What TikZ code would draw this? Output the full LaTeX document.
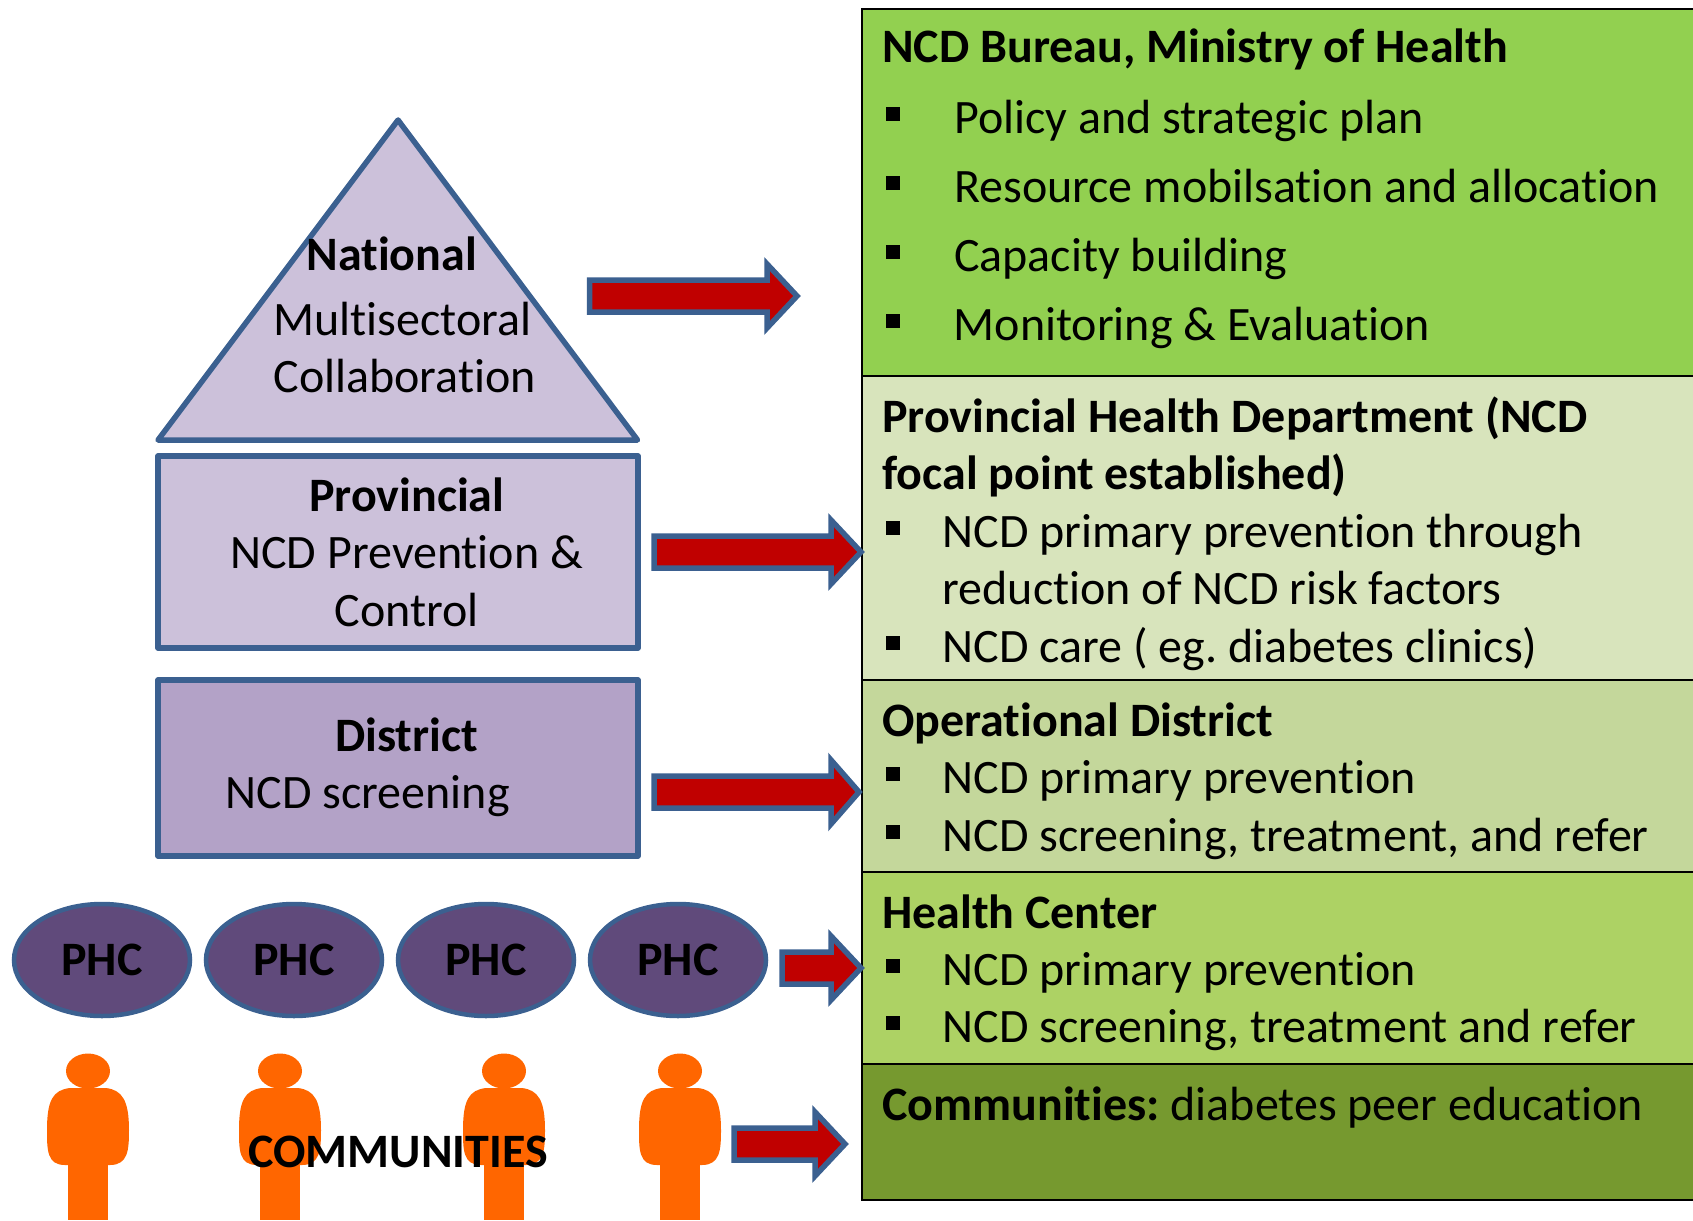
\documentclass[tikz,border=0pt]{standalone}
\usepackage{fontspec}
\usetikzlibrary{shapes.geometric}
\setmainfont[Ligatures=NoCommon]{Carlito}
\AtBeginDocument{\frenchspacing}
\definecolor{edgeblue}{HTML}{3B6090}
\definecolor{arrowred}{HTML}{C00000}
\definecolor{lilac}{HTML}{CCC1DA}
\definecolor{lilacdk}{HTML}{B3A2C7}
\definecolor{phcfill}{HTML}{604A7B}
\definecolor{personc}{HTML}{FF6600}
\definecolor{pgreen}{HTML}{92D050}
\definecolor{plight}{HTML}{D8E4BC}
\definecolor{pmid}{HTML}{C4D79B}
\definecolor{phc}{HTML}{ADD264}
\definecolor{pdark}{HTML}{76992F}
\tikzset{
  panel/.style={draw=black,line width=2pt},
  level/.style={draw=edgeblue,line width=5.5pt,line join=round},
  blockarrow/.style={draw=edgeblue,fill=arrowred,line width=5.5pt,line join=miter},
  phcnode/.style={ellipse,draw=edgeblue,fill=phcfill,line width=4.5pt,minimum width=176pt,minimum height=112pt,inner sep=0pt,font=\fontsize{48}{58}\selectfont\bfseries},
  lefttext/.style={anchor=base,inner sep=0pt,xshift=0.7pt,yshift=-0.8pt,font=\fontsize{48}{58}\selectfont},
  lefthead/.style={lefttext,font=\fontsize{48}{58}\selectfont\bfseries},
  righttext/.style={anchor=base west,inner sep=0pt,yshift=-1pt,font=\fontsize{48}{58}\selectfont},
  righthead/.style={righttext,font=\fontsize{48}{58}\selectfont\bfseries},
  sqbullet/.style={fill=black,inner sep=0pt,minimum size=14pt},
  personfill/.style={fill=personc,draw=none}
}
\newcommand{\blockarr}[4]{% x0, xbase, xtip, y
  \draw[blockarrow] (#1,#4-16) -- (#2,#4-16) -- (#2,#4-32) -- (#3,#4) -- (#2,#4+32) -- (#2,#4+16) -- (#1,#4+16) -- cycle;}
\newcommand{\personshape}[1]{%
  \begin{scope}[xshift=#1pt]
    \fill[personfill] (88,1071) ellipse [x radius=22,y radius=17.5];
    \fill[personfill] (84,1085) rectangle (92,1092);
    \fill[personfill] (68,1160) rectangle (107.5,1220);
    \fill[personfill] (70,1088) .. controls (53,1090) and (47,1100) .. (47,1130)
      .. controls (47,1150) and (47,1165) .. (65,1165)
      -- (110,1165) .. controls (128,1165) and (129,1150) .. (129,1130)
      .. controls (129,1100) and (122,1090) .. (106,1088) -- cycle;
  \end{scope}}
\newcommand{\blt}[4]{% name, text x, baseline y, text
  \node[sqbullet] (#1b) at (892.5,#3-18) {};
  \node[righttext] (#1) at (#2,#3) {#4};}
\begin{document}
\begin{tikzpicture}[x=1pt,y=-1pt]
\useasboundingbox (0,0) rectangle (1693,1220);
% right panels
\draw[panel,fill=pgreen] (862,9) rectangle (1700,376);
\draw[panel,fill=plight] (862,376) rectangle (1700,680);
\draw[panel,fill=pmid] (862,680) rectangle (1700,871.5);
\draw[panel,fill=phc] (862,871.5) rectangle (1700,1063.5);
\draw[panel,fill=pdark] (862,1063.5) rectangle (1700,1199.5);
% pyramid
\draw[level,fill=lilac] (398,120) -- (637.5,440) -- (158,440) -- cycle;
\draw[level,fill=lilac] (158,456) rectangle (638,648);
\draw[level,fill=lilacdk] (158,680) rectangle (638,856);
% left text
\node[lefthead] (natl) at (391,270) {National};
\node[lefttext] (multi) at (401.5,335) {Multisectoral};
\node[lefttext] (collab) at (404,392) {Collaboration};
\node[lefthead] (prov) at (406,511) {Provincial};
\node[lefttext] (provb) at (406,568) {NCD Prevention \&};
\node[lefttext] (provc) at (406,626) {Control};
\node[lefthead] (dist) at (406,751) {District};
\node[lefttext] (distb) at (367,808) {NCD screening};
% PHC
\node[phcnode] (p1) at (102,960) {PHC};
\node[phcnode] (p2) at (294,960) {PHC};
\node[phcnode] (p3) at (486,960) {PHC};
\node[phcnode] (p4) at (678,960) {PHC};
% people
\personshape{0}
\personshape{192}
\personshape{416}
\personshape{592}
\node[anchor=base,inner sep=0pt,font=\fontsize{48}{58}\selectfont\bfseries] (comm) at (398,1167) {COMMUNITIES};
% arrows
\blockarr{589.5}{767}{797}{296}
\blockarr{654}{831}{861}{552}
\blockarr{654}{831}{859}{792}
\blockarr{782}{831}{861}{968}
\blockarr{734}{815}{845}{1144}
% right text
\node[righthead] (h1) at (882,62) {NCD Bureau, Ministry of Health};
\blt{a1}{954}{132}{Policy and strategic plan}
\blt{a2}{954}{201}{Resource mobilsation and allocation}
\blt{a3}{954}{270}{Capacity building}
\blt{a4}{953.5}{339}{Monitoring \& Evaluation}
\node[righthead] (h2) at (882,431) {Provincial Health Department (NCD};
\node[righthead] (h2b) at (882,488) {focal point established)};
\blt{b1}{942.5}{546}{NCD primary prevention through}
\node[righttext] (b1c) at (942.5,603) {reduction of NCD risk factors};
\blt{b2}{942.5}{661}{NCD care ( eg. diabetes clinics)}
\node[righthead] (h3) at (882,735) {Operational District};
\blt{c1}{942.5}{792}{NCD primary prevention}
\blt{c2}{942.5}{850}{NCD screening, treatment, and refer}
\node[righthead] (h4) at (882,927) {Health Center};
\blt{d1}{942.5}{984}{NCD primary prevention}
\blt{d2}{942.5}{1041}{NCD screening, treatment and refer}
\node[righttext] (h5) at (882,1119) {\textbf{Communities:} diabetes peer education};
\end{tikzpicture}
\end{document}
